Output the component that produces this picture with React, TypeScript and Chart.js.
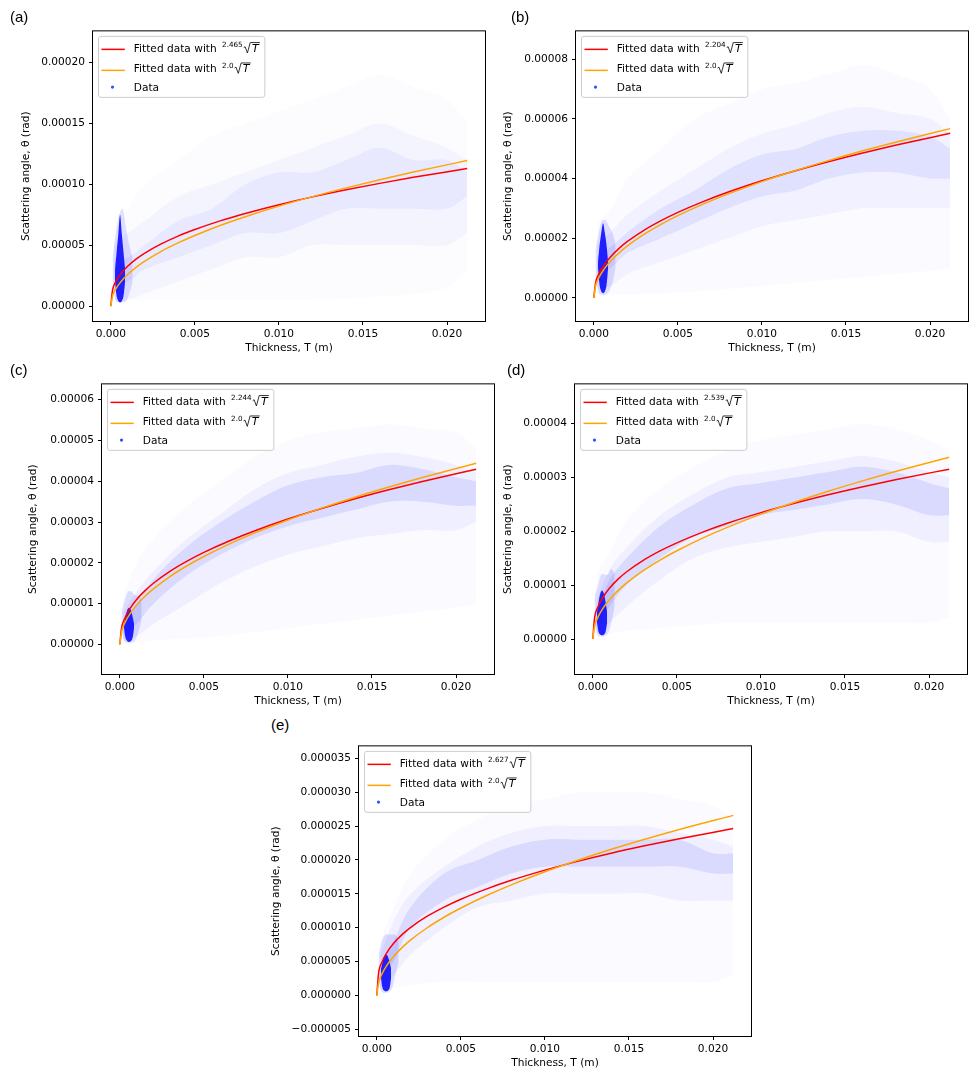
import { useEffect, useRef } from 'react';
import { Chart, registerables } from 'chart.js';

Chart.register(...registerables);

Chart.defaults.font.family = "'DejaVu Sans', sans-serif";
Chart.defaults.font.size = 10.6;
Chart.defaults.color = '#000';

// curve and cloud values below are in units of 1e-5 rad
const SCALE = 1e-5;

const X_TICKS = [0, 0.005, 0.01, 0.015, 0.02];
const X_RANGE = [-0.00106, 0.02226];

// thickness samples (m)
const FIT_T = [0, 0.0001, 0.0003, 0.0006, 0.001, 0.0015, 0.002, 0.003, 0.004, 0.005, 0.0065, 0.008, 0.010, 0.012, 0.014, 0.016, 0.018, 0.0212];
const CLOUD_T = [0.0002, 0.001, 0.002, 0.004, 0.006, 0.008, 0.010, 0.012, 0.014, 0.016, 0.018, 0.020, 0.0212];
const SPIKE_T = [0.00025, 0.00035, 0.00045, 0.00055, 0.00065, 0.00075, 0.00085];
const HALO_T = [0.0001, 0.0003, 0.0005, 0.0007, 0.0009, 0.0011, 0.0013];

// (a)
const A_RED = [0, 1.29, 2.01, 2.66, 3.27, 3.86, 4.34, 5.11, 5.75, 6.29, 7.0, 7.61, 8.33, 8.97, 9.55, 10.08, 10.58, 11.3];
const A_ORANGE = [0, 0.82, 1.42, 2.01, 2.6, 3.18, 3.67, 4.5, 5.19, 5.8, 6.62, 7.34, 8.21, 8.99, 9.71, 10.38, 11.01, 11.95];
const A_OUTER_LO = [0.5, 0.5, 0.5, 0.5, 0.5, 0.5, 0.5, 0.5, 0.6, 0.8, 1.0, 1.5, 3.0];
const A_OUTER_HI = [6, 8, 10, 12, 14, 15, 16, 17, 18, 19, 18, 17, 15];
const A_MID_LO = [0.5, 0.5, 1, 2, 3, 4, 4, 5, 5, 5, 5, 5, 6];
const A_MID_HI = [5, 6, 7, 9, 10, 11, 12, 13, 14, 15, 14, 13, 12];
const A_CORE_LO = [2, 2, 3, 4, 5, 6, 6, 7, 8, 8, 8, 8, 9];
const A_CORE_HI = [4, 4, 5, 7, 8, 10, 11, 11, 12, 13, 12, 12, 11];
const A_HALO_LO = [2, 0.4, 0.3, 0.3, 0.4, 1, 2];
const A_HALO_HI = [4, 6, 7.5, 8, 6.5, 5, 4];
const A_SPIKE_LO = [2.0, 0.8, 0.4, 0.3, 0.4, 0.8, 2.0];
const A_SPIKE_HI = [3.0, 4.5, 6.0, 7.5, 6.0, 4.5, 3.0];
const A_Y_TICKS = [0, 0.00005, 0.0001, 0.00015, 0.0002];
const A_Y_RANGE = [-1.22e-5, 2.256e-4];

// (b)
const B_RED = [0, 0.486, 0.799, 1.094, 1.379, 1.659, 1.89, 2.272, 2.588, 2.864, 3.225, 3.545, 3.922, 4.26, 4.569, 4.855, 5.121, 5.514];
const B_ORANGE = [0, 0.389, 0.674, 0.954, 1.231, 1.508, 1.741, 2.133, 2.463, 2.753, 3.139, 3.483, 3.894, 4.265, 4.607, 4.926, 5.224, 5.67];
const B_OUTER_LO = [0.1, 0.1, 0.1, 0.15, 0.2, 0.3, 0.4, 0.5, 0.6, 0.7, 0.8, 0.9, 1.0];
const B_OUTER_HI = [2.5, 3, 4, 5, 6, 6.5, 7, 7.2, 7.5, 7.8, 7.5, 7, 6];
const B_MID_LO = [0.3, 0.4, 0.8, 1.2, 1.6, 2, 2.4, 2.6, 2.8, 3, 3, 3, 3];
const B_MID_HI = [1.8, 2.2, 2.8, 3.6, 4.3, 5, 5.5, 5.8, 6.2, 6.4, 6.2, 6, 5.5];
const B_CORE_LO = [0.8, 1, 1.5, 2, 2.5, 3, 3.4, 3.6, 4, 4.2, 4.2, 4, 4];
const B_CORE_HI = [1.4, 1.7, 2.2, 3, 3.6, 4.3, 4.8, 5, 5.4, 5.6, 5.6, 5.4, 5];
const B_HALO_LO = [0.8, 0.15, 0.1, 0.1, 0.2, 0.5, 1];
const B_HALO_HI = [1.6, 2.2, 2.6, 2.6, 2.4, 2.2, 1.8];
const B_SPIKE_LO = [1.0, 0.4, 0.2, 0.15, 0.2, 0.4, 1.0];
const B_SPIKE_HI = [1.2, 1.8, 2.2, 2.5, 2.2, 1.8, 1.2];
const B_Y_TICKS = [0, 0.00002, 0.00004, 0.00006, 0.00008];
const B_Y_RANGE = [-7.76e-6, 8.93e-5];

// (c)
const C_RED = [0, 0.395, 0.645, 0.878, 1.102, 1.32, 1.5, 1.798, 2.043, 2.257, 2.537, 2.783, 3.074, 3.334, 3.572, 3.791, 3.995, 4.297];
const C_ORANGE = [0, 0.305, 0.528, 0.747, 0.965, 1.182, 1.364, 1.671, 1.93, 2.157, 2.46, 2.729, 3.051, 3.342, 3.61, 3.859, 4.093, 4.443];
const C_OUTER_LO = [0.05, 0.05, 0.1, 0.15, 0.2, 0.3, 0.4, 0.5, 0.6, 0.7, 0.8, 0.9, 1.0];
const C_OUTER_HI = [1.2, 2, 2.6, 3.4, 4, 4.6, 5, 5.2, 5.3, 5.4, 5.3, 5.2, 4.8];
const C_MID_LO = [0.1, 0.2, 0.5, 1, 1.5, 1.9, 2.2, 2.4, 2.6, 2.7, 2.8, 2.8, 3];
const C_MID_HI = [0.8, 1.3, 1.8, 2.6, 3.2, 3.8, 4.2, 4.4, 4.6, 4.7, 4.6, 4.4, 4.2];
const C_CORE_LO = [0.2, 0.5, 1, 1.7, 2.2, 2.6, 2.9, 3.1, 3.3, 3.5, 3.5, 3.4, 3.4];
const C_CORE_HI = [0.6, 1, 1.6, 2.4, 3, 3.5, 3.9, 4.1, 4.2, 4.4, 4.3, 4.1, 4];
const C_HALO_LO = [0.3, 0.06, 0.04, 0.05, 0.1, 0.3, 0.6];
const C_HALO_HI = [0.8, 1.1, 1.3, 1.3, 1.2, 1.2, 1.1];
const C_SPIKE_LO = [0.4, 0.15, 0.08, 0.06, 0.08, 0.15, 0.4];
const C_SPIKE_HI = [0.5, 0.7, 0.85, 0.9, 0.85, 0.7, 0.5];
const C_Y_TICKS = [0, 0.00001, 0.00002, 0.00003, 0.00004, 0.00005, 0.00006];
const C_Y_RANGE = [-7.23e-6, 6.375e-5];

// (d)
const D_RED = [0, 0.383, 0.59, 0.775, 0.947, 1.112, 1.245, 1.461, 1.636, 1.786, 1.981, 2.15, 2.347, 2.522, 2.68, 2.825, 2.959, 3.155];
const D_ORANGE = [0, 0.232, 0.402, 0.568, 0.733, 0.898, 1.037, 1.27, 1.467, 1.64, 1.87, 2.074, 2.319, 2.54, 2.744, 2.933, 3.111, 3.376];
const D_OUTER_LO = [0.05, 0.1, 0.15, 0.2, 0.25, 0.3, 0.3, 0.3, 0.3, 0.3, 0.3, 0.3, 0.4];
const D_OUTER_HI = [1.2, 1.6, 2.2, 2.8, 3.2, 3.5, 3.7, 3.8, 3.9, 4.0, 3.9, 3.7, 3.5];
const D_MID_LO = [0.1, 0.3, 0.6, 1.1, 1.5, 1.7, 1.8, 1.9, 2, 2, 2, 1.8, 1.8];
const D_MID_HI = [0.7, 1.3, 1.7, 2.3, 2.7, 3, 3.1, 3.2, 3.3, 3.4, 3.3, 3.1, 3];
const D_CORE_LO = [0.2, 0.6, 1, 1.5, 1.9, 2.1, 2.3, 2.4, 2.5, 2.6, 2.5, 2.3, 2.3];
const D_CORE_HI = [0.5, 1.1, 1.5, 2.1, 2.5, 2.8, 2.9, 3, 3.1, 3.2, 3.1, 2.9, 2.8];
const D_HALO_LO = [0.3, 0.06, 0.05, 0.05, 0.1, 0.3, 0.6];
const D_HALO_HI = [0.8, 1.0, 1.2, 1.2, 1.2, 1.3, 1.2];
const D_SPIKE_LO = [0.3, 0.12, 0.08, 0.07, 0.08, 0.12, 0.3];
const D_SPIKE_HI = [0.5, 0.7, 0.85, 0.9, 0.85, 0.7, 0.5];
const D_Y_TICKS = [0, 0.00001, 0.00002, 0.00003, 0.00004];
const D_Y_RANGE = [-6.5e-6, 4.73e-5];

// (e)
const E_RED = [0, 0.321, 0.487, 0.634, 0.77, 0.899, 1.003, 1.17, 1.305, 1.421, 1.57, 1.7, 1.85, 1.983, 2.103, 2.212, 2.314, 2.463];
const E_ORANGE = [0, 0.183, 0.316, 0.447, 0.577, 0.707, 0.817, 1.0, 1.155, 1.291, 1.472, 1.633, 1.826, 2.0, 2.161, 2.31, 2.45, 2.658];
const E_OUTER_LO = [0.05, 0.1, 0.15, 0.2, 0.2, 0.2, 0.2, 0.2, 0.2, 0.2, 0.2, 0.2, 0.3];
const E_OUTER_HI = [0.8, 1.3, 1.8, 2.3, 2.6, 2.8, 2.9, 3, 3, 3, 2.9, 2.8, 2.6];
const E_MID_LO = [0.1, 0.3, 0.6, 1, 1.3, 1.4, 1.5, 1.5, 1.5, 1.5, 1.4, 1.4, 1.4];
const E_MID_HI = [0.6, 1.1, 1.5, 1.9, 2.2, 2.4, 2.5, 2.5, 2.5, 2.5, 2.4, 2.3, 2.2];
const E_CORE_LO = [0.2, 0.5, 1, 1.4, 1.6, 1.8, 1.9, 1.9, 1.9, 1.9, 1.9, 1.8, 1.8];
const E_CORE_HI = [0.4, 0.8, 1.3, 1.8, 2, 2.2, 2.3, 2.3, 2.3, 2.3, 2.3, 2.1, 2.1];
const E_HALO_LO = [0.2, 0.05, 0.04, 0.05, 0.1, 0.3, 0.5];
const E_HALO_HI = [0.6, 0.8, 0.9, 0.9, 0.9, 0.9, 0.8];
const E_SPIKE_LO = [0.25, 0.1, 0.07, 0.06, 0.07, 0.1, 0.25];
const E_SPIKE_HI = [0.4, 0.5, 0.58, 0.6, 0.58, 0.5, 0.4];
const E_Y_TICKS = [-0.000005, 0, 0.000005, 0.00001, 0.000015, 0.00002, 0.000025, 0.00003, 0.000035];
const E_Y_RANGE = [-5.97e-6, 3.676e-5];

const PANELS = [
  { id: 'a', exponent: '2.465', red: A_RED, orange: A_ORANGE, outer: [A_OUTER_LO, A_OUTER_HI], mid: [A_MID_LO, A_MID_HI], core: [A_CORE_LO, A_CORE_HI], halo: [A_HALO_LO, A_HALO_HI], spike: [A_SPIKE_LO, A_SPIKE_HI], yTicks: A_Y_TICKS, yRange: A_Y_RANGE, decimals: 5, alphas: [0.012, 0.035, 0.05] },
  { id: 'b', exponent: '2.204', red: B_RED, orange: B_ORANGE, outer: [B_OUTER_LO, B_OUTER_HI], mid: [B_MID_LO, B_MID_HI], core: [B_CORE_LO, B_CORE_HI], halo: [B_HALO_LO, B_HALO_HI], spike: [B_SPIKE_LO, B_SPIKE_HI], yTicks: B_Y_TICKS, yRange: B_Y_RANGE, decimals: 5, alphas: [0.015, 0.045, 0.07] },
  { id: 'c', exponent: '2.244', red: C_RED, orange: C_ORANGE, outer: [C_OUTER_LO, C_OUTER_HI], mid: [C_MID_LO, C_MID_HI], core: [C_CORE_LO, C_CORE_HI], halo: [C_HALO_LO, C_HALO_HI], spike: [C_SPIKE_LO, C_SPIKE_HI], yTicks: C_Y_TICKS, yRange: C_Y_RANGE, decimals: 5, alphas: [0.015, 0.05, 0.09] },
  { id: 'd', exponent: '2.539', red: D_RED, orange: D_ORANGE, outer: [D_OUTER_LO, D_OUTER_HI], mid: [D_MID_LO, D_MID_HI], core: [D_CORE_LO, D_CORE_HI], halo: [D_HALO_LO, D_HALO_HI], spike: [D_SPIKE_LO, D_SPIKE_HI], yTicks: D_Y_TICKS, yRange: D_Y_RANGE, decimals: 5, alphas: [0.015, 0.05, 0.09] },
  { id: 'e', exponent: '2.627', red: E_RED, orange: E_ORANGE, outer: [E_OUTER_LO, E_OUTER_HI], mid: [E_MID_LO, E_MID_HI], core: [E_CORE_LO, E_CORE_HI], halo: [E_HALO_LO, E_HALO_HI], spike: [E_SPIKE_LO, E_SPIKE_HI], yTicks: E_Y_TICKS, yRange: E_Y_RANGE, decimals: 6, alphas: [0.015, 0.05, 0.09] },
];

// where each plot box sits on the page
const LAYOUT: Record<string, { plotLeft: number; plotTop: number; titleGap: number; labelLeft: number; labelTop: number }> = {
  a: { plotLeft: 93, plotTop: 29, titleGap: 67, labelLeft: 10, labelTop: 8 },
  b: { plotLeft: 576, plotTop: 29, titleGap: 68, labelLeft: 511, labelTop: 8 },
  c: { plotLeft: 102, plotTop: 382, titleGap: 69, labelLeft: 10, labelTop: 361 },
  d: { plotLeft: 575, plotTop: 382, titleGap: 67, labelLeft: 507, labelTop: 361 },
  e: { plotLeft: 359, plotTop: 744, titleGap: 83, labelLeft: 271, labelTop: 716 },
};

const Y_AXIS_W = 90;
const X_AXIS_H = 40;
const PAD_T = 8;
const PAD_R = 8;
const PLOT_W = 392;
const PLOT_H = 292;
const FONT = "10.6px 'DejaVu Sans'";
const SUP_FONT = "7.2px 'DejaVu Sans'";
const T_FONT = "italic 11px 'DejaVu Sans'";

const pts = (xs: number[], ys: number[]) => xs.map((x, i) => ({ x, y: ys[i] * SCALE }));

function band(xs: number[], lo: number[], hi: number[], color: string, order: number) {
  const common = { pointRadius: 0, borderColor: 'rgba(0,0,0,0)', borderWidth: 1, tension: 0.35, order };
  return [
    { ...common, data: pts(xs, lo), fill: false },
    { ...common, data: pts(xs, hi), fill: '-1', backgroundColor: color },
  ];
}

const framePlugin = {
  id: 'frame',
  afterDatasetsDraw(chart: any) {
    const { ctx, chartArea } = chart;
    ctx.save();
    ctx.strokeStyle = '#000';
    ctx.lineWidth = 1;
    ctx.strokeRect(chartArea.left - 0.5, chartArea.top - 0.5, chartArea.right - chartArea.left + 1, chartArea.bottom - chartArea.top + 1);
    ctx.restore();
  },
};

function legendPlugin(exponent: string) {
  return {
    id: 'mplLegend',
    afterDraw(chart: any) {
      const { ctx, chartArea } = chart;
      const bx = chartArea.left + 5.5;
      const by = chartArea.top + 5;
      const textX = bx + 35.3;
      ctx.save();
      ctx.textAlign = 'left';
      ctx.textBaseline = 'alphabetic';
      ctx.font = FONT;
      const baseW = ctx.measureText('Fitted data with ').width + 2;
      ctx.font = SUP_FONT;
      const supW = ctx.measureText(exponent).width;
      ctx.font = T_FONT;
      const tW = ctx.measureText('T').width;
      const w = 35.3 + baseW + supW + 0.8 + 9.5 + tW + 1.2 + 4;
      const h = 61;

      ctx.beginPath();
      ctx.roundRect(bx, by, w, h, 2.5);
      ctx.fillStyle = 'rgba(255,255,255,0.8)';
      ctx.fill();
      ctx.strokeStyle = '#cccccc';
      ctx.lineWidth = 1;
      ctx.stroke();

      const rows = [
        { color: '#ff0000', sup: exponent, base: 15.4, line: 13 },
        { color: '#ffa500', sup: '2.0', base: 35.8, line: 34 },
      ];
      rows.forEach((r) => {
        ctx.strokeStyle = r.color;
        ctx.lineWidth = 1.5;
        ctx.beginPath();
        ctx.moveTo(bx + 3, by + r.line);
        ctx.lineTo(bx + 26.3, by + r.line);
        ctx.stroke();

        const b = by + r.base;
        ctx.fillStyle = '#000';
        ctx.font = FONT;
        ctx.fillText('Fitted data with', textX, b);
        let x = textX + baseW;
        ctx.font = SUP_FONT;
        ctx.fillText(r.sup, x, b - 4.6);
        x += ctx.measureText(r.sup).width + 0.8;
        // radical sign with overline
        const top = b - 9.2;
        ctx.font = T_FONT;
        const tx = x + 8.5;
        const end = tx + tW + 1.2;
        ctx.strokeStyle = '#000';
        ctx.lineWidth = 0.8;
        ctx.beginPath();
        ctx.moveTo(x + 0.3, b - 4.2);
        ctx.lineTo(x + 1.7, b - 5);
        ctx.lineTo(x + 4, b + 1.2);
        ctx.lineTo(x + 6.8, top);
        ctx.lineTo(end, top);
        ctx.stroke();
        ctx.fillText('T', tx, b);
      });

      ctx.fillStyle = '#2a52ff';
      ctx.beginPath();
      ctx.arc(bx + 14, by + 50.7, 1.6, 0, Math.PI * 2);
      ctx.fill();
      ctx.fillStyle = '#000';
      ctx.font = FONT;
      ctx.fillText('Data', textX, by + 54.3);
      ctx.restore();
    },
  };
}

const fmt = (v: number, d: number) => v.toFixed(d).replace('-', '\u2212');

function PanelChart({ panel }: { panel: (typeof PANELS)[number] }) {
  const chartRef = useRef<HTMLCanvasElement | null>(null);
  const lay = LAYOUT[panel.id];
  const width = Y_AXIS_W + PLOT_W + PAD_R;
  const height = PAD_T + PLOT_H + X_AXIS_H;

  useEffect(() => {
    if (!chartRef.current) return;
    const [a1, a2, a3] = panel.alphas;
    const datasets: any[] = [
      ...band(CLOUD_T, panel.outer[0], panel.outer[1], `rgba(0,0,255,${a1})`, 7),
      ...band(CLOUD_T, panel.mid[0], panel.mid[1], `rgba(0,0,255,${a2})`, 6),
      ...band(CLOUD_T, panel.core[0], panel.core[1], `rgba(0,0,255,${a3})`, 5),
      ...band(HALO_T, panel.halo[0], panel.halo[1], 'rgba(0,0,255,0.12)', 4),
      ...band(SPIKE_T, panel.spike[0], panel.spike[1], 'rgba(0,0,255,0.85)', 3),
      { data: pts(FIT_T, panel.red), borderColor: '#ff0000', borderWidth: 1.5, pointRadius: 0, fill: false, cubicInterpolationMode: 'monotone', order: 1 },
      { data: pts(FIT_T, panel.orange), borderColor: '#ffa500', borderWidth: 1.5, pointRadius: 0, fill: false, cubicInterpolationMode: 'monotone', order: 0 },
    ];

    const chart = new Chart(chartRef.current, {
      type: 'line',
      data: { datasets },
      options: {
        animation: false,
        responsive: false,
        maintainAspectRatio: false,
        layout: { padding: { left: 0, top: PAD_T, right: PAD_R, bottom: 0 } },
        plugins: { legend: { display: false }, tooltip: { enabled: false } },
        scales: {
          x: {
            type: 'linear',
            min: X_RANGE[0],
            max: X_RANGE[1],
            afterFit: (s: any) => { s.height = X_AXIS_H; },
            afterBuildTicks: (s: any) => { s.ticks = X_TICKS.map((value) => ({ value })); },
            ticks: { autoSkip: false, maxRotation: 0, padding: 3, color: '#000', callback: (v: any) => fmt(Number(v), 3) },
            grid: { drawOnChartArea: false, drawTicks: true, tickLength: 4, color: '#000' },
            border: { display: false },
            title: { display: true, text: 'Thickness, T (m)', color: '#000', padding: { top: 0, bottom: 6.1 } },
          },
          y: {
            type: 'linear',
            min: panel.yRange[0],
            max: panel.yRange[1],
            afterFit: (s: any) => { s.width = Y_AXIS_W; },
            afterBuildTicks: (s: any) => { s.ticks = panel.yTicks.map((value) => ({ value })); },
            ticks: { autoSkip: false, padding: 4, color: '#000', callback: (v: any) => fmt(Number(v), panel.decimals) },
            grid: { drawOnChartArea: false, drawTicks: true, tickLength: 4, color: '#000' },
            border: { display: false },
            title: { display: true, text: 'Scattering angle, \u03b8 (rad)', color: '#000', padding: { top: Y_AXIS_W - lay.titleGap - 6.36, bottom: 0 } },
          },
        },
      },
      plugins: [framePlugin, legendPlugin(panel.exponent)],
    } as any);

    return () => {
      chart.destroy();
    };
  }, [panel]);

  return (
    <>
      <canvas
        ref={chartRef}
        width={width}
        height={height}
        style={{ position: 'absolute', left: lay.plotLeft - Y_AXIS_W, top: lay.plotTop - PAD_T, width, height }}
      />
      <div
        style={{ position: 'absolute', left: lay.labelLeft, top: lay.labelTop, font: "15px 'Liberation Sans', Arial, sans-serif", lineHeight: '18px', color: '#000' }}
      >
        ({panel.id})
      </div>
    </>
  );
}

export default function App() {
  useEffect(() => {
    document.body.style.margin = '0';
    document.body.style.background = '#fff';
  }, []);

  return (
    <div style={{ position: 'relative', width: 978, height: 1077, background: '#fff', overflow: 'hidden' }}>
      {PANELS.map((p) => (
        <PanelChart key={p.id} panel={p} />
      ))}
    </div>
  );
}
